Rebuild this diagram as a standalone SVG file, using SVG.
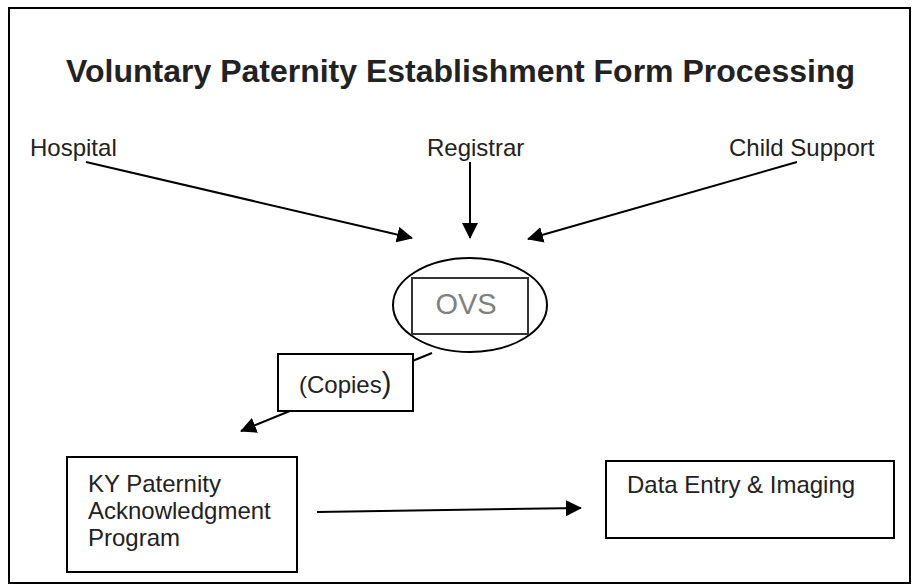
<svg xmlns="http://www.w3.org/2000/svg" width="914" height="586" viewBox="0 0 914 586">
  <defs>
    <marker id="arrow" viewBox="0 0 16 16" refX="15" refY="8" markerWidth="16" markerHeight="16" markerUnits="userSpaceOnUse" orient="auto">
      <path d="M0,0 L16,8 L0,16 z" fill="#000"/>
    </marker>
    <style>
      .t { font-family: "Liberation Sans", Arial, sans-serif; fill: #222; font-size: 24px; }
      .title { font-weight: bold; font-size: 32px; }
      .box { fill: #fff; stroke: #000; stroke-width: 2; }
      .conn { stroke: #000; stroke-width: 2; fill: none; }
      .arr { marker-end: url(#arrow); }
    </style>
  </defs>
  <rect width="914" height="586" fill="#fff"/>
  <rect id="frame" x="9" y="8" width="901" height="575" fill="none" stroke="#000" stroke-width="2"/>

  <text class="t title" x="460.5" y="82" text-anchor="middle">Voluntary Paternity Establishment Form Processing</text>

  <g id="connectors">
    <line class="conn arr" x1="86" y1="162" x2="412" y2="238"/>
    <line class="conn arr" x1="470" y1="162" x2="470" y2="238"/>
    <line class="conn arr" x1="797" y1="162" x2="528" y2="239"/>
    <line class="conn arr" x1="432" y1="353" x2="241" y2="431"/>
    <line class="conn arr" x1="317" y1="512" x2="581" y2="508"/>
  </g>

  <g id="hospital">
    <text class="t" x="30" y="156">Hospital</text>
  </g>
  <g id="registrar">
    <text class="t" x="427" y="156">Registrar</text>
  </g>
  <g id="child-support">
    <text class="t" x="729" y="156">Child Support</text>
  </g>

  <g id="ovs">
    <ellipse cx="470" cy="305" rx="77" ry="47" fill="#fff" stroke="#000" stroke-width="2"/>
    <rect x="412" y="278" width="116" height="56" fill="#fff" stroke="#333" stroke-width="2"/>
    <text x="466" y="314" text-anchor="middle" font-family="Liberation Sans, Arial, sans-serif" font-size="29" fill="#808080">OVS</text>
  </g>

  <g id="copies">
    <rect class="box" x="278" y="354" width="135" height="57"/>
    <text class="t" x="299" y="393">(Copies<tspan font-size="29">)</tspan></text>
  </g>

  <g id="ky-program">
    <rect class="box" x="67" y="457" width="230" height="115"/>
    <text class="t" x="88" y="492">KY Paternity</text>
    <text class="t" x="88" y="519">Acknowledgment</text>
    <text class="t" x="88" y="546">Program</text>
  </g>

  <g id="data-entry">
    <rect class="box" x="606" y="461" width="288" height="77"/>
    <text class="t" x="627" y="493">Data Entry &amp; Imaging</text>
  </g>
</svg>
